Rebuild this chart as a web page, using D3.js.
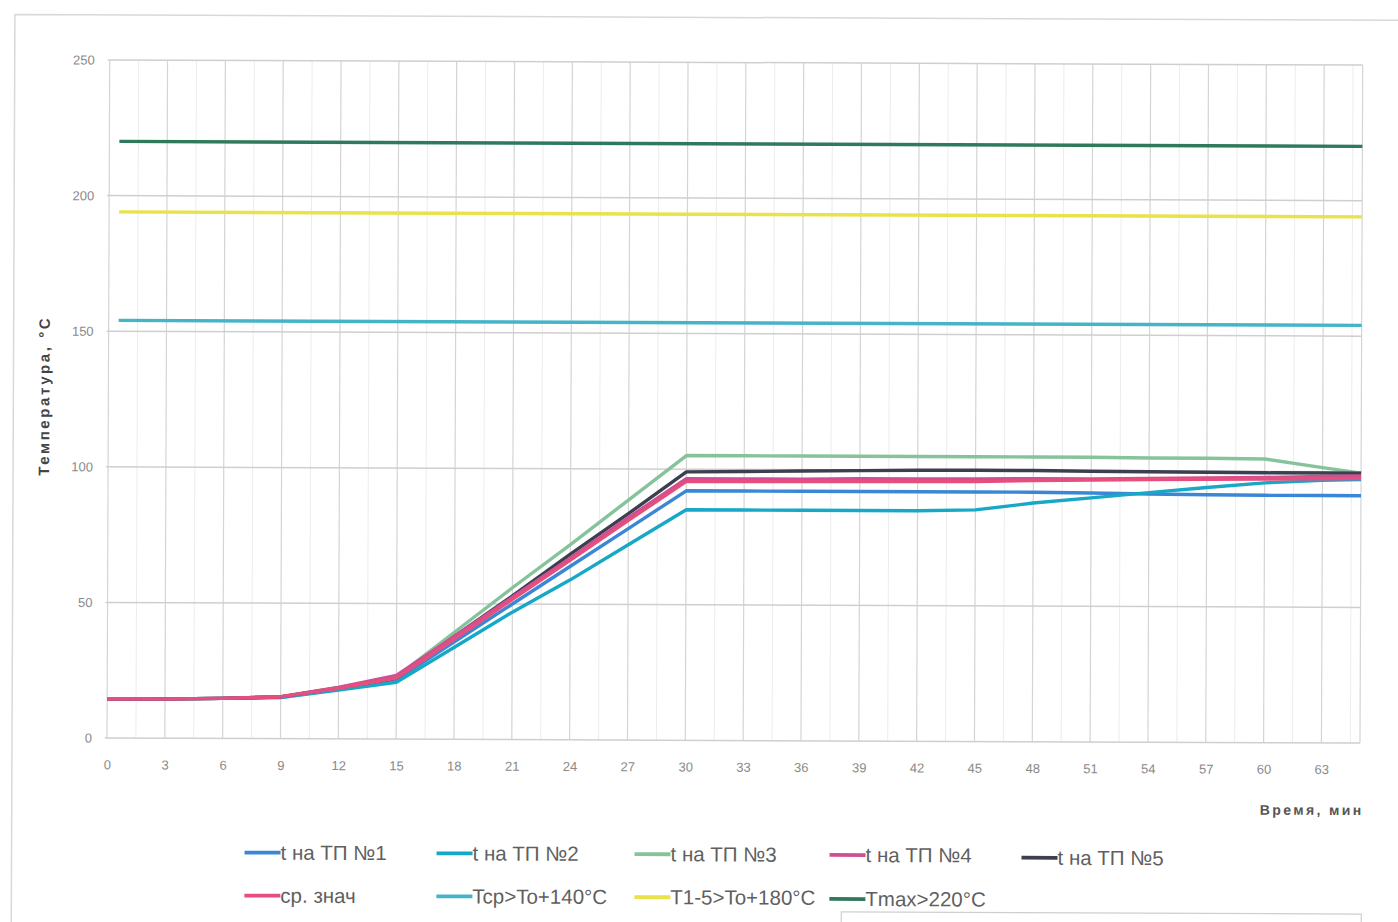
<!DOCTYPE html>
<html>
<head>
<meta charset="utf-8">
<script src="https://cdn.jsdelivr.net/npm/d3@7"></script>
<style>
  html, body { margin: 0; padding: 0; background: #fff; }
  svg { display: block; }
</style>
</head>
<body>
<svg id="chart" width="1398" height="922"></svg>
<script>
// Time points, minutes
const minutes = [0, 3, 6, 9, 12, 15, 18, 21, 24, 27, 30, 33, 36, 39, 42, 45, 48, 51, 54, 57, 60, 63, 65];

// Measured temperatures at thermocouples, °C
const tp1 = [14.5, 14.5, 14.8, 15.3, 18.5, 22, 36, 50, 64, 78, 92, 92, 92, 92, 92, 92, 92, 91.8, 91.5, 91.3, 91.2, 91.2, 91.2];
const tp2 = [14.5, 14.5, 14.8, 15.2, 18, 21, 34, 47, 59, 72, 85, 85, 85, 85, 85, 85.4, 88, 90, 92, 94, 95.8, 96.8, 97.2];
const tp3 = [14.5, 14.5, 14.8, 15.4, 19, 23, 39.5, 56, 72, 88.5, 105, 105, 105, 105, 105, 105, 105, 105, 104.8, 104.8, 104.6, 101.5, 99.5];
const tp4 = [14.5, 14.5, 14.8, 15.5, 19, 23.5, 38, 52.5, 67, 82, 96.5, 96.5, 96.5, 96.7, 96.7, 96.8, 97, 97, 97.2, 97.5, 97.8, 98.2, 98.5];
const tp5 = [14.5, 14.5, 14.8, 15.4, 18.8, 22.5, 38, 53, 68.5, 83.5, 99, 99.2, 99.5, 99.7, 99.9, 100, 100, 99.8, 99.7, 99.6, 99.5, 99.5, 99.5];
const avgT = [14.5, 14.5, 14.8, 15.4, 18.7, 22.5, 37, 51.7, 66.3, 81, 95.5, 95.5, 95.6, 95.7, 95.8, 95.8, 96.3, 96.6, 96.8, 97, 97.2, 97.4, 97.5];

// Threshold levels, °C
const limitAvg = 154;   // To + 140
const limitEach = 194;  // To + 180
const limitMax = 220;

const yTicks = [0, 50, 100, 150, 200, 250];
const xTicks = [0, 3, 6, 9, 12, 15, 18, 21, 24, 27, 30, 33, 36, 39, 42, 45, 48, 51, 54, 57, 60, 63];

const seriesNames = ["t на ТП №1", "t на ТП №2", "t на ТП №3", "t на ТП №4", "t на ТП №5",
                     "ср. знач", "Tcp>To+140°C", "T1-5>To+180°C", "Tmax>220°C"];
const seriesColors = ["#3a87d6", "#17a8c8", "#86c39a", "#cf4f93", "#3b3f4e",
                      "#e64f7d", "#45b4c9", "#e9e24a", "#2f7a5c"];

const svg = d3.select("#chart");
const root = svg.append("g").attr("transform", "rotate(0.23 107 738)");

// Outer frame
root.append("path")
  .attr("d", "M12,930 L12,15 L1420,15")
  .attr("fill", "none").attr("stroke", "#d8d8d8").attr("stroke-width", 1.5);
root.append("rect")
  .attr("x", 842).attr("y", 909).attr("width", 520).attr("height", 40)
  .attr("fill", "none").attr("stroke", "#cfcfcf").attr("stroke-width", 1.2);

const x = d3.scaleLinear().domain([0, 65]).range([107, 1360]);
const y = d3.scaleLinear().domain([0, 250]).range([738, 60]);

// Grid
const grid = root.append("g");
grid.selectAll("line.vminor")
  .data(d3.range(1.5, 65, 3))
  .join("line")
  .attr("x1", d => x(d)).attr("x2", d => x(d))
  .attr("y1", y(250)).attr("y2", y(0))
  .attr("stroke", "#ececec").attr("stroke-width", 1);
grid.selectAll("line.vmajor")
  .data(xTicks.concat([65]))
  .join("line")
  .attr("x1", d => x(d)).attr("x2", d => x(d))
  .attr("y1", y(250)).attr("y2", y(0))
  .attr("stroke", "#d4d4d4").attr("stroke-width", 1.2);
grid.selectAll("line.h")
  .data(yTicks)
  .join("line")
  .attr("x1", x(0) - 2).attr("x2", x(65))
  .attr("y1", d => y(d)).attr("y2", d => y(d))
  .attr("stroke", "#cfcfcf").attr("stroke-width", 1.5);

// Axes
const yAxis = d3.axisLeft(y).tickValues(yTicks).tickSize(0).tickPadding(15);
root.append("g").attr("transform", `translate(${x(0)},0)`).call(yAxis)
  .call(g => g.select(".domain").remove())
  .selectAll("text")
  .attr("font-family", "'Liberation Sans', sans-serif")
  .attr("font-size", 13).attr("fill", "#8a8a8a");

const xAxis = d3.axisBottom(x).tickValues(xTicks).tickSize(0).tickPadding(22);
root.append("g").attr("transform", `translate(0,${y(0)})`).call(xAxis)
  .call(g => g.select(".domain").remove())
  .selectAll("text")
  .attr("font-family", "'Liberation Sans', sans-serif")
  .attr("font-size", 13).attr("fill", "#8a8a8a");

// Axis titles
root.append("text")
  .attr("transform", "translate(48,396) rotate(-90)")
  .attr("text-anchor", "middle")
  .attr("font-family", "'Liberation Sans', sans-serif")
  .attr("font-size", 15).attr("font-weight", "bold").attr("fill", "#444")
  .attr("letter-spacing", 2.6)
  .text("Температура, °С");
root.append("text")
  .attr("x", 1312).attr("y", 810)
  .attr("text-anchor", "middle")
  .attr("font-family", "'Liberation Sans', sans-serif")
  .attr("font-size", 14).attr("font-weight", "bold").attr("fill", "#555")
  .attr("letter-spacing", 2.4)
  .text("Время, мин");

// Threshold lines
const thresholds = [
  { v: limitAvg, c: seriesColors[6] },
  { v: limitEach, c: seriesColors[7] },
  { v: limitMax, c: seriesColors[8] }
];
root.selectAll("line.thr")
  .data(thresholds)
  .join("line")
  .attr("x1", x(0) + 10).attr("x2", x(65))
  .attr("y1", d => y(d.v)).attr("y2", d => y(d.v))
  .attr("stroke", d => d.c).attr("stroke-width", 3.4);

// Temperature curves
const curves = [
  { v: tp3, c: seriesColors[2] },
  { v: tp1, c: seriesColors[0] },
  { v: tp2, c: seriesColors[1] },
  { v: tp5, c: seriesColors[4] },
  { v: tp4, c: seriesColors[3] },
  { v: avgT, c: seriesColors[5] }
];
const line = d3.line().x((d, i) => x(minutes[i])).y(d => y(d));
root.selectAll("path.curve")
  .data(curves)
  .join("path")
  .attr("d", d => line(d.v))
  .attr("fill", "none")
  .attr("stroke", d => d.c)
  .attr("stroke-width", 3.4)
  .attr("stroke-linejoin", "round");

// Legend
const legendPos = [
  [245, 852], [437, 852], [635, 852], [830, 852], [1022, 854],
  [245, 895], [437, 895], [635, 895], [830, 896]
];
const legend = root.append("g");
seriesNames.forEach((name, i) => {
  const [lx, ly] = legendPos[i];
  const g = legend.append("g").attr("transform", `translate(${lx},${ly})`);
  g.append("line").attr("x1", 0).attr("x2", 36).attr("y1", 0).attr("y2", 0)
    .attr("stroke", seriesColors[i]).attr("stroke-width", 3.8);
  g.append("text").attr("x", 36).attr("y", 7)
    .attr("font-family", "'Liberation Sans', sans-serif")
    .attr("font-size", 20.5).attr("fill", "#5f5f5f")
    .text(name);
});
</script>
</body>
</html>
